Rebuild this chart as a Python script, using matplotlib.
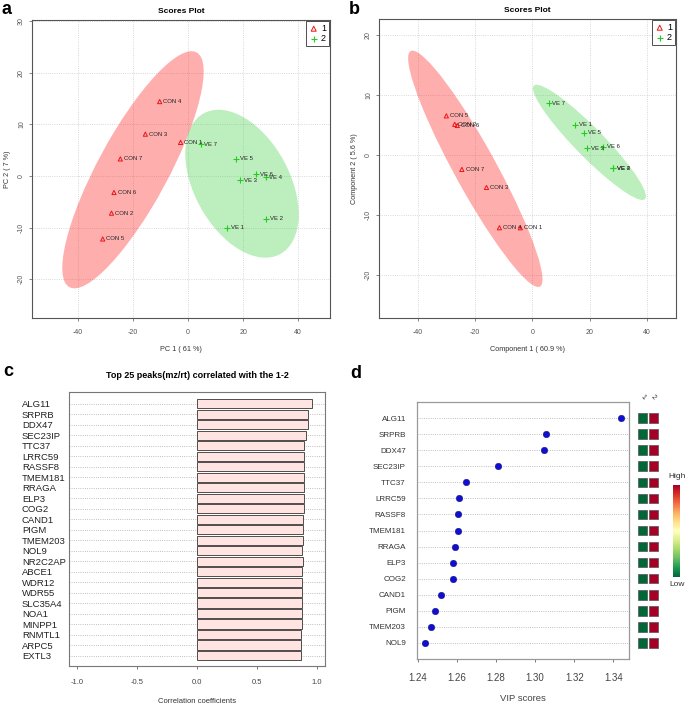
import numpy as np
import matplotlib
matplotlib.use('Agg')
import matplotlib.pyplot as plt
from matplotlib.patches import Ellipse

plt.rcParams['font.family'] = ['Liberation Sans', 'DejaVu Sans']
plt.rcParams['axes.unicode_minus'] = False

# ---- panel a : PCA scores ----
pca_con_names = ['CON 1', 'CON 2', 'CON 3', 'CON 4', 'CON 5', 'CON 6', 'CON 7']
pca_con_x = [-2.7, -27.8, -15.5, -10.3, -31.0, -26.9, -24.6]
pca_con_y = [6.5, -7.2, 8.1, 14.4, -12.2, -3.2, 3.3]
pca_ve_names = ['VE 1', 'VE 2', 'VE 3', 'VE 4', 'VE 5', 'VE 6', 'VE 7']
pca_ve_x = [14.3, 28.4, 19.0, 28.2, 17.5, 24.8, 4.6]
pca_ve_y = [-10.0, -8.3, -0.8, -0.2, 3.3, 0.3, 6.1]
# 95% ellipses: centre and shape matrix (data units)
pca_con_ell_centre = [-20.0, 1.2]
pca_con_ell_shape = [[660.3, 488.6], [488.6, 527.2]]
pca_ve_ell_centre = [19.6, -1.5]
pca_ve_ell_shape = [[424.6, -122.0], [-122.0, 205.1]]

# ---- panel b : PLS-DA scores ----
pls_con_x = [-4.2, -27.1, -16.0, -11.5, -30.0, -26.2, -24.6]
pls_con_y = [-12.1, 5.1, -5.4, -12.1, 6.5, 4.9, -2.4]
pls_ve_x = [15.0, 28.1, 19.2, 28.1, 18.1, 24.8, 5.7]
pls_ve_y = [5.0, -2.2, 1.1, -2.2, 3.7, 1.4, 8.6]
pls_con_ell_centre = [-19.9, -2.3]
pls_con_ell_shape = [[549.5, -430.5], [-430.5, 386.0]]
pls_ve_ell_centre = [19.9, 2.1]
pls_ve_ell_shape = [[388.4, -176.6], [-176.6, 91.7]]

# ---- panel c : correlation ----
corr_genes = ['ALG11', 'SRPRB', 'DDX47', 'SEC23IP', 'TTC37', 'LRRC59', 'RASSF8',
              'TMEM181', 'RRAGA', 'ELP3', 'COG2', 'CAND1', 'PIGM', 'TMEM203', 'NOL9',
              'NR2C2AP', 'ABCE1', 'WDR12', 'WDR55', 'SLC35A4', 'NOA1', 'MINPP1',
              'RNMTL1', 'ARPC5', 'EXTL3']
corr_values = [0.960, 0.929, 0.929, 0.909, 0.898, 0.898, 0.893, 0.893, 0.893, 0.893,
               0.893, 0.887, 0.887, 0.887, 0.879, 0.882, 0.876, 0.876, 0.876, 0.876,
               0.876, 0.876, 0.870, 0.870, 0.870]

# ---- panel d : VIP ----
vip_genes = ['ALG11', 'SRPRB', 'DDX47', 'SEC23IP', 'TTC37', 'LRRC59', 'RASSF8',
             'TMEM181', 'RRAGA', 'ELP3', 'COG2', 'CAND1', 'PIGM', 'TMEM203', 'NOL9']
vip_scores = [1.3439, 1.3055, 1.3048, 1.2813, 1.2647, 1.2611, 1.2606, 1.2606,
              1.2590, 1.2579, 1.2579, 1.2521, 1.2490, 1.2468, 1.2437]
vip_group1 = [-1.0] * 15
vip_group2 = [1.0] * 15

W, H = 685, 707
fig = plt.figure(figsize=(W / 100, H / 100), dpi=100)


def box(l, t, r, b):
    return [l / W, 1 - b / H, (r - l) / W, (b - t) / H]


def draw_ellipse(ax, centre, shape, color, alpha):
    vals, vecs = np.linalg.eigh(np.array(shape))
    ang = np.degrees(np.arctan2(vecs[1, 1], vecs[0, 1]))
    e = Ellipse(centre, 2 * np.sqrt(vals[1]), 2 * np.sqrt(vals[0]), angle=ang,
                facecolor=color, alpha=alpha, edgecolor='none', zorder=1)
    ax.add_patch(e)


def scores_panel(ax, cx, cy, vx, vy, ells, xlim, ylim, xlabel, ylabel, yticks):
    draw_ellipse(ax, ells[0], ells[1], '#ff2a2a', 0.38)
    draw_ellipse(ax, ells[2], ells[3], '#33cc33', 0.32)
    ax.scatter(cx, cy, marker='^', s=9, facecolors='none', edgecolors='#ee1111',
               linewidths=0.7, zorder=3, label='1')
    ax.scatter(vx, vy, marker='+', s=16, color='#22cc22', linewidths=0.8, zorder=3, label='2')
    for n, x, y in zip(pca_con_names, cx, cy):
        ax.text(x + 1.3, y, n, fontsize=4.3, va='center', color='#222222', zorder=4)
    for n, x, y in zip(pca_ve_names, vx, vy):
        ax.text(x + 1.3, y, n, fontsize=4.3, va='center', color='#222222', zorder=4)
    ax.set_xlim(*xlim)
    ax.set_ylim(*ylim)
    ax.set_xticks([-40, -20, 0, 20, 40])
    ax.set_yticks(yticks)
    ax.grid(True, linestyle=':', color='#cccccc', linewidth=0.6)
    ax.set_axisbelow(True)
    ax.tick_params(labelsize=5, colors='#555555', length=2, width=0.5)
    ax.tick_params(axis='x', pad=6)
    ax.tick_params(axis='y', pad=3)
    for lab in ax.get_yticklabels():
        lab.set_rotation(90)
        lab.set_va('center')
    for s in ax.spines.values():
        s.set_color('#555555')
        s.set_linewidth(0.8)
    ax.set_xlabel(xlabel, fontsize=5.2, color='#333333', labelpad=7)
    ax.set_ylabel(ylabel, fontsize=5.2, color='#333333', labelpad=5)
    ax.set_title('Scores Plot', fontsize=6, fontweight='bold', pad=5)
    leg = ax.legend(loc='upper right', fontsize=6.5, frameon=True, fancybox=False,
                    borderpad=0.35, handletextpad=0.3, handlelength=1.0, borderaxespad=0.1,
                    labelspacing=0.1, markerscale=1.2)
    leg.get_frame().set_edgecolor('#222222')
    leg.get_frame().set_linewidth(0.7)


ax_a = fig.add_axes(box(32, 20, 330, 318))
scores_panel(ax_a, pca_con_x, pca_con_y, pca_ve_x, pca_ve_y,
             (pca_con_ell_centre, pca_con_ell_shape, pca_ve_ell_centre, pca_ve_ell_shape),
             (-56.7, 51.6), (-27.5, 30.2),
             'PC 1 ( 61 %)', 'PC 2 ( 7 %)', [-20, -10, 0, 10, 20, 30])

ax_b = fig.add_axes(box(379, 19, 676, 318))
scores_panel(ax_b, pls_con_x, pls_con_y, pls_ve_x, pls_ve_y,
             (pls_con_ell_centre, pls_con_ell_shape, pls_ve_ell_centre, pls_ve_ell_shape),
             (-53.5, 50.1), (-27.1, 22.6),
             'Component 1 ( 60.9 %)', 'Component 2 ( 5.6 %)', [-20, -10, 0, 10, 20])

# ---- panel c ----
ax_c = fig.add_axes(box(69, 392, 325, 666))
pos = np.arange(len(corr_genes))[::-1]
for p in pos:
    ax_c.axhline(p, color='#aaaaaa', linestyle=':', linewidth=0.6, zorder=0)
ax_c.barh(pos, corr_values, height=0.86, color='#ffe4e1', edgecolor='#333333',
          linewidth=0.6, zorder=2)
ax_c.set_xlim(-1.07, 1.07)
ax_c.set_ylim(-1.0, 25.1)
ax_c.set_yticks(pos)
ax_c.set_yticklabels(corr_genes, ha='left', fontsize=6.8, color='#222222')
ax_c.tick_params(axis='y', length=0, pad=34)
ax_c.set_xticks([-1.0, -0.5, 0.0, 0.5, 1.0])
ax_c.set_xticklabels(['-1.0', '-0.5', '0.0', '0.5', '1.0'])
ax_c.tick_params(axis='x', labelsize=5.5, colors='#444444', length=2, width=0.5, pad=7)
for s in ax_c.spines.values():
    s.set_color('#777777')
    s.set_linewidth(0.8)
ax_c.set_xlabel('Correlation coefficients', fontsize=5.5, color='#333333', labelpad=9)
ax_c.set_title('Top 25 peaks(mz/rt) correlated with the 1-2', fontsize=6.5,
               fontweight='bold', pad=10)

# ---- panel d ----
ax_d = fig.add_axes(box(417, 402, 629, 659))
vpos = np.arange(len(vip_genes))[::-1]
for p in vpos:
    ax_d.axhline(p, color='#aaaaaa', linestyle=':', linewidth=0.6, zorder=0)
ax_d.scatter(vip_scores, vpos, s=22, color='#1010c8', edgecolors='#000080',
             linewidths=0.3, zorder=3)
ax_d.set_xlim(1.2397, 1.348)
ax_d.set_ylim(-1, 15)
ax_d.set_yticks(vpos)
ax_d.set_yticklabels(vip_genes, fontsize=5.8, color='#333333')
ax_d.tick_params(axis='y', length=0, pad=8)
ax_d.set_xticks([1.24, 1.26, 1.28, 1.30, 1.32, 1.34])
ax_d.set_xticklabels(['1.24', '1.26', '1.28', '1.30', '1.32', '1.34'])
ax_d.tick_params(axis='x', labelsize=7, colors='#444444', length=2, width=0.5, pad=8)
for s in ax_d.spines.values():
    s.set_color('#999999')
    s.set_linewidth(0.9)
ax_d.set_xlabel('VIP scores', fontsize=6.8, color='#444444', labelpad=8)

# heatmap squares next to VIP plot
ax_h = fig.add_axes(box(636, 402, 660, 659))
ax_h.set_xlim(0.4, 2.6)
ax_h.set_ylim(-1, 15)
ax_h.axis('off')
sq_x = np.concatenate([np.full(len(vpos), 1), np.full(len(vpos), 2)])
sq_y = np.concatenate([vpos, vpos])
sq_v = np.concatenate([vip_group1, vip_group2])
sc = ax_h.scatter(sq_x, sq_y, c=sq_v, cmap='RdYlGn_r', vmin=-1, vmax=1, marker='s',
                  s=48, edgecolors='#555555', linewidths=0.5)
for i, lab in enumerate(['1', '2']):
    ax_h.text(i + 1, 15.05, lab, rotation=-45, fontsize=5, ha='center', va='bottom',
              color='#333333')

cax = fig.add_axes(box(673, 485, 680, 577))
cb = fig.colorbar(sc, cax=cax)
cb.set_ticks([])
cb.outline.set_visible(False)
fig.text(677 / W, 1 - 476 / H, 'High', fontsize=6, ha='center', va='center', color='#333333')
fig.text(677 / W, 1 - 585 / H, 'Low', fontsize=6, ha='center', va='center', color='#333333')

# panel letters
fig.text(2 / W, 1 - 10 / H, 'a', fontsize=13, fontweight='bold', va='center')
fig.text(349 / W, 1 - 10 / H, 'b', fontsize=13, fontweight='bold', va='center')
fig.text(3 / W, 1 - 372 / H, 'c', fontsize=13, fontweight='bold', va='center')
fig.text(350 / W, 1 - 373 / H, 'd', fontsize=13, fontweight='bold', va='center')

fig.savefig('out.png', dpi=100)
